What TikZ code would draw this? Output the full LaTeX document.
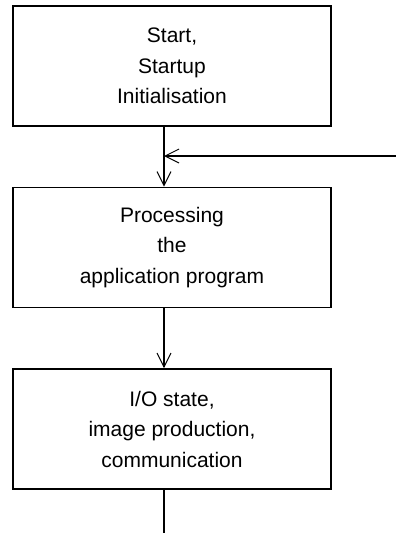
\documentclass[tikz,border=0pt]{standalone}
\usepackage{fontspec}
\setmainfont{Liberation Sans}
\usetikzlibrary{arrows.meta}
\begin{document}
\begin{tikzpicture}[x=1pt,y=-1pt,
  procbox/.style={draw,line width=1.6pt,rectangle,minimum width=318pt,minimum height=120pt,inner sep=0pt,align=center,font=\fontsize{21}{30.5}\selectfont},
  conn/.style={line width=1.6pt},
  arr/.style={conn,-{Straight Barb[length=14pt,width=14pt,line width=1pt]}}]
\useasboundingbox (0,0) rectangle (396,533);
\node[procbox] (b1) at (172,66) {Start,\\Startup\\Initialisation};
\node[procbox] (b2) at (172,247.5) {Processing\\the\\application program};
\node[procbox] (b3) at (172,429) {I/O state,\\image production,\\communication};
\coordinate (c) at (164,0);
\coordinate (fb) at (396,156);
\coordinate (end) at (164,533);
\draw[arr] (b1.south -| c) -- (b2.north -| c);
\draw[arr] (fb) -- (fb -| c);
\draw[arr] (b2.south -| c) -- (b3.north -| c);
\draw[conn] (b3.south -| c) -- (end);
\end{tikzpicture}
\end{document}
